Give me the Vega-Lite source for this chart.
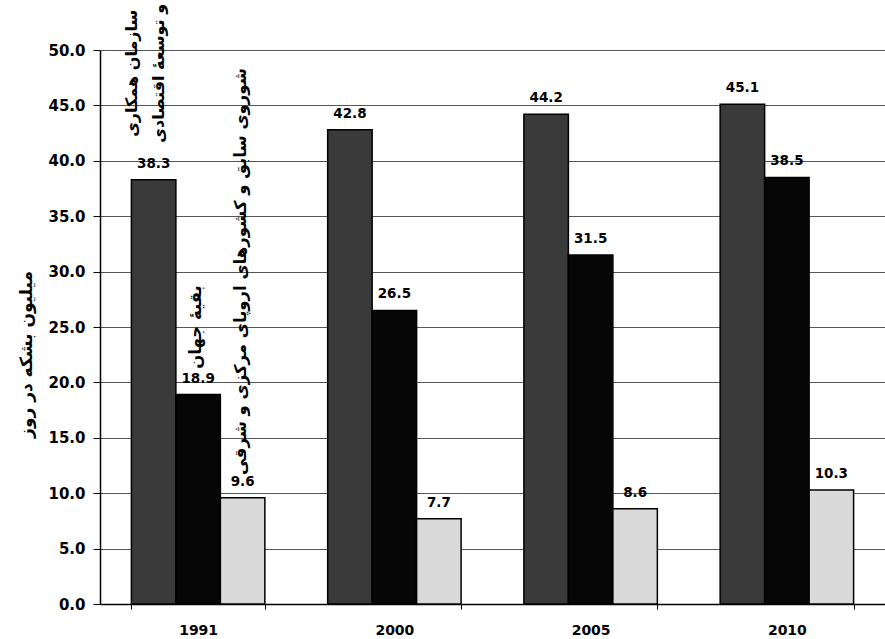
{
  "$schema": "https://vega.github.io/schema/vega-lite/v6.json",
  "width": 785,
  "height": 554,
  "autosize": {"type": "none"},
  "padding": {"left": 100, "top": 50, "right": 0, "bottom": 35},
  "background": "white",
  "config": {"view": {"stroke": null}, "font": "DejaVu Sans"},
  "datasets": {
    "bars": [
      {"year": "1991", "series": "OECD", "value": 38.3},
      {"year": "1991", "series": "Rest", "value": 18.9},
      {"year": "1991", "series": "FSU", "value": 9.6},
      {"year": "2000", "series": "OECD", "value": 42.8},
      {"year": "2000", "series": "Rest", "value": 26.5},
      {"year": "2000", "series": "FSU", "value": 7.7},
      {"year": "2005", "series": "OECD", "value": 44.2},
      {"year": "2005", "series": "Rest", "value": 31.5},
      {"year": "2005", "series": "FSU", "value": 8.6},
      {"year": "2010", "series": "OECD", "value": 45.1},
      {"year": "2010", "series": "Rest", "value": 38.5},
      {"year": "2010", "series": "FSU", "value": 10.3}
    ],
    "names": [
      {"year": "1991", "series": "OECD", "pos": 47.9, "t": ["سازمان همکاری", "و توسعهٔ اقتصادی"]},
      {"year": "1991", "series": "Rest", "pos": 25.0, "t": "بقیهٔ جهان"},
      {"year": "1991", "series": "FSU", "pos": 30.0, "t": "شوروی سابق و کشورهای اروپای مرکزی و شرقی"}
    ]
  },
  "layer": [
    {
      "data": {"name": "bars"},
      "mark": {"type": "bar", "stroke": "black", "strokeWidth": 1.5},
      "encoding": {
        "x": {
          "field": "year", "type": "nominal",
          "scale": {"domain": ["1991", "2000", "2005", "2010"], "paddingInner": 0.32, "paddingOuter": 0.16},
          "axis": {
            "title": null, "labelAngle": 0, "labelFont": "DejaVu Sans", "labelFontSize": 14, "labelFontWeight": "bold",
            "labelColor": "black", "labelPadding": 14, "tickBand": "extent", "tickSize": 5,
            "tickColor": "black", "domainColor": "black", "domainWidth": 1.5
          }
        },
        "xOffset": {
          "field": "series", "type": "nominal",
          "scale": {"domain": ["OECD", "Rest", "FSU"], "paddingInner": 0, "paddingOuter": 0}
        },
        "y": {
          "field": "value", "type": "quantitative",
          "scale": {"domain": [0, 50], "nice": false},
          "axis": {
            "values": [0, 5, 10, 15, 20, 25, 30, 35, 40, 45, 50],
            "format": ".1f", "labelFont": "DejaVu Sans", "labelFontSize": 15, "labelFontWeight": "bold", "labelColor": "black",
            "labelPadding": 8, "tickSize": 7, "tickColor": "black", "domainColor": "black", "domainWidth": 1.5,
            "grid": true, "gridColor": "#555555", "gridWidth": 1,
            "title": "میلیون بشکه در روز", "titleFont": "DejaVu Sans", "titleFontSize": 17,
            "titleFontWeight": "bold", "titleColor": "black", "titlePadding": 12, "titleY": 304
          }
        },
        "fill": {
          "field": "series", "type": "nominal", "legend": null,
          "scale": {"domain": ["OECD", "Rest", "FSU"], "range": ["#3a3a3a", "#060606", "#dadada"]}
        }
      }
    },
    {
      "data": {"name": "bars"},
      "mark": {"type": "text", "baseline": "bottom", "dy": -9, "font": "DejaVu Sans", "fontSize": 13.5, "fontWeight": "bold", "color": "black"},
      "encoding": {
        "x": {"field": "year", "type": "nominal"},
        "xOffset": {"field": "series", "type": "nominal"},
        "y": {"field": "value", "type": "quantitative"},
        "text": {"field": "value", "type": "quantitative", "format": ".1f"}
      }
    },
    {
      "data": {"name": "names"},
      "transform": [{"filter": "datum.series === 'OECD'"}],
      "mark": {"type": "text", "angle": 270, "align": "center", "baseline": "middle", "dy": -22, "font": "DejaVu Sans", "fontSize": 16, "fontWeight": "bold", "color": "black", "lineHeight": 27},
      "encoding": {
        "x": {"field": "year", "type": "nominal"},
        "xOffset": {"field": "series", "type": "nominal"},
        "y": {"field": "pos", "type": "quantitative"},
        "text": {"field": "t", "type": "nominal"}
      }
    },
    {
      "data": {"name": "names"},
      "transform": [{"filter": "datum.series !== 'OECD'"}],
      "mark": {"type": "text", "angle": 270, "align": "center", "baseline": "middle", "dy": -2, "font": "DejaVu Sans", "fontSize": 16.5, "fontWeight": "bold", "color": "black"},
      "encoding": {
        "x": {"field": "year", "type": "nominal"},
        "xOffset": {"field": "series", "type": "nominal"},
        "y": {"field": "pos", "type": "quantitative"},
        "text": {"field": "t", "type": "nominal"}
      }
    }
  ]
}
